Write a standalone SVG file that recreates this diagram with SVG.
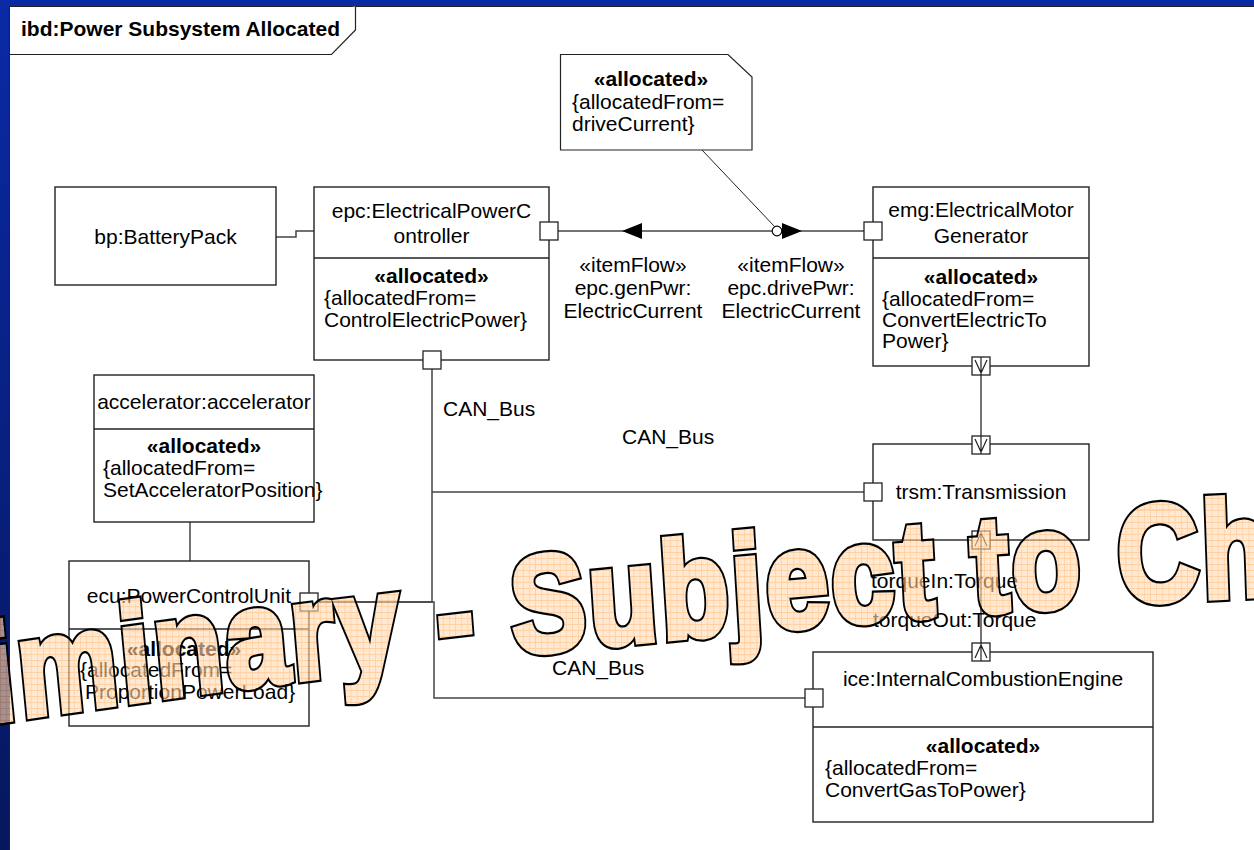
<svg xmlns="http://www.w3.org/2000/svg" width="1254" height="850" viewBox="0 0 1254 850">
  <defs>
    <linearGradient id="slideBg" x1="0" y1="0" x2="0" y2="1">
      <stop offset="0" stop-color="#0a2aa6"/>
      <stop offset="1" stop-color="#06175c"/>
    </linearGradient>
    <pattern id="wmGrid" width="7.5" height="6" patternUnits="userSpaceOnUse">
      <rect width="7.5" height="6" fill="#ffdcb8"/>
      <path d="M0 0.5H7.5M0.5 0V6" stroke="#ffb36a" stroke-width="1"/>
    </pattern>
    <path id="wmPath" d="M -289 758 Q 638.6 631 1566 594"/>
    <style>
      .t { font-family: "Liberation Sans", Arial, sans-serif; font-size: 21px; fill: #000; }
      .b { font-weight: bold; }
      .c { text-anchor: middle; }
      .box { fill: #fff; stroke: #222; stroke-width: 1.4; }
      .div { stroke: #222; stroke-width: 1.4; fill: none; }
      .port { fill: #fff; stroke: #222; stroke-width: 1.3; }
      .sym { fill: none; stroke: #222; stroke-width: 1.2; }
      .conn { fill: none; stroke: #444; stroke-width: 1.5; }
      .wm { font-family: "Liberation Sans", Arial, sans-serif; font-weight: bold; font-size: 137px; letter-spacing: 3.6px; stroke-linejoin: miter; stroke-miterlimit: 3; }
    </style>
    <text id="wmText" class="wm" transform="scale(0.82,1)"><textPath href="#wmPath" startOffset="3">Preliminary - Subject to Change</textPath></text>
    <mask id="wmHole" maskUnits="userSpaceOnUse" x="0" y="0" width="1254" height="850">
      <rect width="1254" height="850" fill="#fff"/>
      <use href="#wmText" fill="#000" stroke="#000" stroke-width="5.5"/>
    </mask>
  </defs>

  <!-- slide background and diagram frame -->
  <rect x="0" y="0" width="1254" height="850" fill="url(#slideBg)"/>
  <rect x="9.5" y="6.5" width="1250" height="850" fill="#fff" stroke="#222" stroke-width="1"/>
  <g id="frame-title">
    <path d="M9.5 54.5 H331.5 L355.5 30 V6.5" fill="#fff" stroke="#222" stroke-width="1.2"/>
    <text class="t b" x="21" y="36">ibd:Power Subsystem Allocated</text>
  </g>

  <!-- connectors -->
  <g id="connectors">
    <polyline class="conn" points="276,237 296,237 296,231 314,231"/>
    <line class="conn" x1="558" y1="231" x2="864" y2="231"/>
    <polygon points="622,231 642,223 642,239" fill="#000"/>
    <polygon points="802,231 782,223 782,239" fill="#000"/>
    <circle cx="777" cy="231" r="4.8" fill="#fff" stroke="#000" stroke-width="1.2"/>
    <line x1="702" y1="150" x2="775" y2="227" stroke="#222" stroke-width="1"/>
    <polyline class="conn" points="432,369 432,602 318,602"/>
    <line class="conn" x1="432" y1="492" x2="864" y2="492"/>
    <polyline class="conn" points="318,602 434,602 434,698 805,698"/>
    <line class="conn" x1="190" y1="522" x2="190" y2="561"/>
    <line class="conn" x1="981" y1="375" x2="981" y2="436"/>
    <line class="conn" x1="981" y1="549" x2="981" y2="643"/>
    <text class="t" x="443" y="416">CAN_Bus</text>
    <text class="t" x="622" y="444">CAN_Bus</text>
    <text class="t" x="552" y="675">CAN_Bus</text>
    <text class="t c" x="633" y="272">«itemFlow»</text>
    <text class="t c" x="633" y="295">epc.genPwr:</text>
    <text class="t c" x="633" y="318">ElectricCurrent</text>
    <text class="t c" x="791" y="272">«itemFlow»</text>
    <text class="t c" x="791" y="295">epc.drivePwr:</text>
    <text class="t c" x="791" y="318">ElectricCurrent</text>
    <text class="t" x="871" y="588">torqueIn:Torque</text>
    <text class="t" x="873" y="627">torqueOut:Torque</text>
  </g>

  <!-- allocation note -->
  <g id="note-driveCurrent">
    <path d="M560.5 54.5 H728 L752 77 V150 H560.5 Z" fill="#fff" stroke="#222" stroke-width="1.2"/>
    <text class="t b c" x="651" y="86">«allocated»</text>
    <text class="t" x="572" y="109">{allocatedFrom=</text>
    <text class="t" x="572" y="131">driveCurrent}</text>
  </g>

  <g id="bp">
    <rect class="box" x="55" y="187" width="221" height="98"/>
    <text class="t c" x="165.5" y="244">bp:BatteryPack</text>
  </g>

  <g id="epc">
    <rect class="box" x="314" y="187" width="235" height="173"/>
    <line class="div" x1="314" y1="258" x2="549" y2="258"/>
    <text class="t c" x="431.5" y="218">epc:ElectricalPowerC</text>
    <text class="t c" x="431.5" y="243">ontroller</text>
    <text class="t b c" x="431.5" y="283">«allocated»</text>
    <text class="t" x="324" y="305">{allocatedFrom=</text>
    <text class="t" x="324" y="327">ControlElectricPower}</text>
    <rect class="port" x="540" y="222" width="18" height="18"/>
    <rect class="port" x="423" y="351" width="18" height="18"/>
  </g>

  <g id="emg">
    <rect class="box" x="873" y="187" width="216" height="179"/>
    <line class="div" x1="873" y1="258" x2="1089" y2="258"/>
    <text class="t c" x="981" y="217">emg:ElectricalMotor</text>
    <text class="t c" x="981" y="243">Generator</text>
    <text class="t b c" x="981" y="284">«allocated»</text>
    <text class="t" x="882" y="306">{allocatedFrom=</text>
    <text class="t" x="882" y="327">ConvertElectricTo</text>
    <text class="t" x="882" y="348">Power}</text>
    <rect class="port" x="864" y="222" width="18" height="18"/>
    <rect class="port" x="972" y="357" width="18" height="18"/>
    <path class="sym" d="M975 360 L981 373 L987 360 M981 357 V375"/>
  </g>

  <g id="trsm">
    <rect class="box" x="873" y="444" width="216" height="96"/>
    <text class="t c" x="981" y="499">trsm:Transmission</text>
    <rect class="port" x="864" y="483" width="18" height="18"/>
    <rect class="port" x="972" y="436" width="18" height="18"/>
    <path class="sym" d="M975 439 L981 452 L987 439 M981 436 V454"/>
    <rect class="port" x="972" y="531" width="18" height="18"/>
    <path class="sym" d="M975 546 L981 533 L987 546 M981 531 V549"/>
  </g>

  <g id="accelerator">
    <rect class="box" x="94" y="375" width="220" height="147"/>
    <line class="div" x1="94" y1="429" x2="314" y2="429"/>
    <text class="t c" x="204" y="409">accelerator:accelerator</text>
    <text class="t b c" x="204" y="453">«allocated»</text>
    <text class="t" x="103" y="475">{allocatedFrom=</text>
    <text class="t" x="103" y="497">SetAcceleratorPosition}</text>
  </g>

  <g id="ecu">
    <rect class="box" x="69" y="561" width="240" height="165"/>
    <line class="div" x1="69" y1="629" x2="309" y2="629"/>
    <text class="t c" x="189" y="603">ecu:PowerControlUnit</text>
    <text class="t b c" x="184" y="656">«allocated»</text>
    <text class="t" x="80" y="677">{allocatedFrom=</text>
    <text class="t" x="85" y="699">ProportionPowerLoad}</text>
    <rect class="port" x="300" y="593" width="18" height="18"/>
  </g>

  <g id="ice">
    <rect class="box" x="813" y="652" width="340" height="170"/>
    <line class="div" x1="813" y1="727" x2="1153" y2="727"/>
    <text class="t c" x="983" y="686">ice:InternalCombustionEngine</text>
    <text class="t b c" x="983" y="753">«allocated»</text>
    <text class="t" x="825" y="775">{allocatedFrom=</text>
    <text class="t" x="825" y="797">ConvertGasToPower}</text>
    <rect class="port" x="805" y="689" width="18" height="18"/>
    <rect class="port" x="972" y="643" width="18" height="18"/>
    <path class="sym" d="M975 658 L981 645 L987 658 M981 643 V661"/>
  </g>

  <!-- status watermark: translucent gridded letters with a black outline -->
  <g id="watermark">
    <g opacity="0.62">
      <use href="#wmText" fill="url(#wmGrid)" stroke="url(#wmGrid)" stroke-width="5.5"/>
    </g>
    <use href="#wmText" fill="none" stroke="#000" stroke-width="10" mask="url(#wmHole)"/>
  </g>
</svg>
